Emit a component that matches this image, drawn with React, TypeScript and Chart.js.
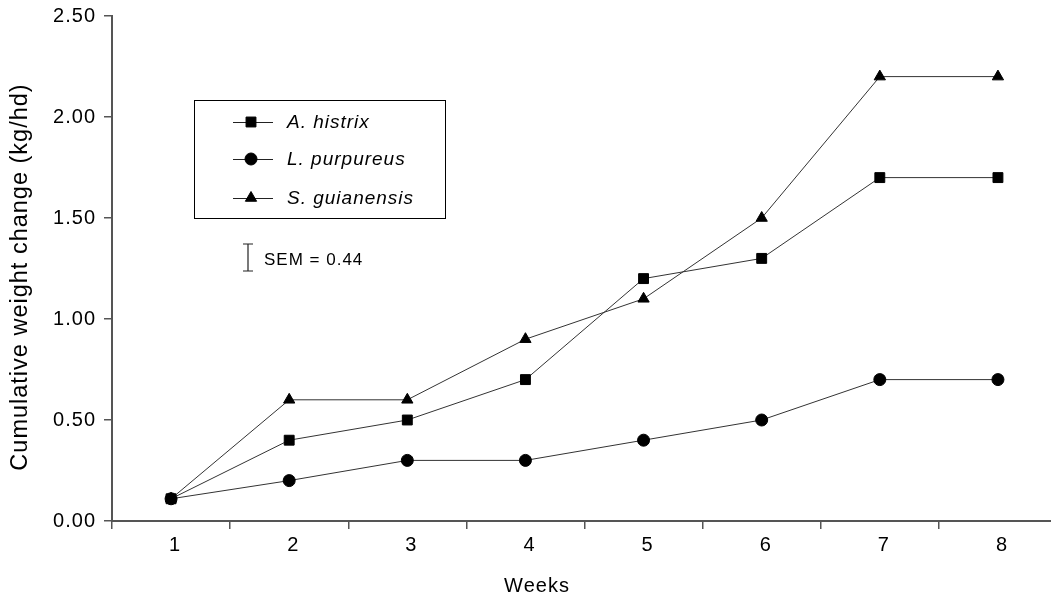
import React, { useEffect, useRef } from 'react';
import { Chart, registerables } from 'chart.js';

Chart.register(...registerables);

// ---- data ----
const weeks = ['1', '2', '3', '4', '5', '6', '7', '8'];
const aHistrix = [0.11, 0.4, 0.5, 0.7, 1.2, 1.3, 1.7, 1.7];
const lPurpureus = [0.11, 0.2, 0.3, 0.3, 0.4, 0.5, 0.7, 0.7];
const sGuianensis = [0.11, 0.6, 0.6, 0.9, 1.1, 1.5, 2.2, 2.2];
const seriesNames = ['A. histrix', 'L. purpureus', 'S. guianensis'];
const seriesStyles = ['rect', 'circle', 'triangle'];
const seriesRadius = [7, 6, 6.5];
const semLabel = 'SEM = 0.44';
const yTitle = 'Cumulative weight change (kg/hd)';
const xTitle = 'Weeks';

const FONT = "'Liberation Sans', Arial, Helvetica, sans-serif";
const CANVAS_W = 1080;
const CANVAS_H = 595;

function drawMarker(ctx: CanvasRenderingContext2D, style: string, r: number, x: number, y: number) {
  ctx.beginPath();
  if (style === 'rect') {
    const s = Math.SQRT1_2 * r;
    ctx.rect(x - s, y - s, 2 * s, 2 * s);
  } else if (style === 'circle') {
    ctx.arc(x, y, r, 0, Math.PI * 2);
  } else {
    const a = (2 * Math.PI) / 3;
    ctx.moveTo(x, y - r);
    ctx.lineTo(x + Math.sin(a) * r, y - Math.cos(a) * r);
    ctx.lineTo(x + Math.sin(2 * a) * r, y - Math.cos(2 * a) * r);
    ctx.closePath();
  }
  ctx.fill();
  ctx.stroke();
}

const spacingPlugin = {
  id: 'spacing',
  beforeDraw(chart: any) {
    (chart.ctx as any).letterSpacing = '1px';
  },
};

const decorPlugin = {
  id: 'decor',
  afterDraw(chart: any) {
    const { ctx, chartArea } = chart;
    ctx.save();
    (ctx as any).letterSpacing = '1px';
    // legend box
    const bx = chartArea.left + 82;
    const by = chartArea.top + 84;
    const bw = 251;
    const bh = 118;
    ctx.strokeStyle = '#000';
    ctx.lineWidth = 1;
    ctx.strokeRect(bx + 0.5, by + 0.5, bw, bh);
    const rowY = [by + 22, by + 59, by + 98];
    seriesNames.forEach((name, i) => {
      const y = rowY[i];
      ctx.strokeStyle = '#222';
      ctx.lineWidth = 1.2;
      ctx.beginPath();
      ctx.moveTo(bx + 39, y + 0.5);
      ctx.lineTo(bx + 79, y + 0.5);
      ctx.stroke();
      ctx.fillStyle = '#000';
      ctx.strokeStyle = '#000';
      ctx.lineWidth = 1;
      drawMarker(ctx, seriesStyles[i], seriesRadius[i], bx + 57, y);
      ctx.fillStyle = '#000';
      ctx.font = `italic 19px ${FONT}`;
      ctx.textBaseline = 'middle';
      ctx.textAlign = 'left';
      ctx.fillText(name, bx + 93, y + 1);
    });
    // SEM bar
    const sx = chartArea.left + 136;
    const sy1 = chartArea.top + 228;
    const sy2 = chartArea.top + 255;
    ctx.strokeStyle = '#222';
    ctx.lineWidth = 1.2;
    ctx.beginPath();
    ctx.moveTo(sx, sy1);
    ctx.lineTo(sx, sy2);
    ctx.moveTo(sx - 5, sy1);
    ctx.lineTo(sx + 5, sy1);
    ctx.moveTo(sx - 5, sy2);
    ctx.lineTo(sx + 5, sy2);
    ctx.stroke();
    ctx.fillStyle = '#000';
    ctx.font = `17px ${FONT}`;
    ctx.textBaseline = 'middle';
    ctx.textAlign = 'left';
    ctx.fillText(semLabel, sx + 16, (sy1 + sy2) / 2 + 3);

    // axis titles
    ctx.font = `23.5px ${FONT}`;
    ctx.textAlign = 'center';
    ctx.textBaseline = 'middle';
    ctx.save();
    ctx.translate(21, chartArea.top + 261);
    ctx.rotate(-Math.PI / 2);
    ctx.fillText(yTitle, 0, 0);
    ctx.restore();

    ctx.font = `20px ${FONT}`;
    ctx.textBaseline = 'alphabetic';
    ctx.fillText(xTitle, chartArea.left + 425, chartArea.bottom + 71);
    ctx.restore();
  },
};

export default function App() {
  const ref = useRef<HTMLCanvasElement | null>(null);

  useEffect(() => {
    if (!ref.current) return;
    const series = [aHistrix, lPurpureus, sGuianensis];
    const chart = new Chart(ref.current, {
      type: 'line',
      data: {
        labels: weeks,
        datasets: series.map((d, i) => ({
          label: seriesNames[i],
          data: d,
          borderColor: '#333',
          borderWidth: 1,
          backgroundColor: '#000',
          pointBackgroundColor: '#000',
          pointBorderColor: '#000',
          pointBorderWidth: 1,
          pointStyle: seriesStyles[i] as any,
          pointRadius: seriesRadius[i],
          tension: 0,
          fill: false,
        })),
      },
      options: {
        responsive: false,
        animation: false,
        layout: { padding: { left: 0, top: 16, right: CANVAS_W - 1057, bottom: 0 } },
        plugins: {
          legend: { display: false },
          tooltip: { enabled: false },
        },
        scales: {
          x: {
            type: 'category',
            offset: true,
            grid: {
              offset: true,
              drawOnChartArea: false,
              drawTicks: true,
              tickLength: 8,
              color: '#555',
              lineWidth: 1.5,
            },
            border: { display: true, color: '#555', width: 2 },
            ticks: {
              color: '#000',
              font: { family: FONT, size: 20 },
              padding: 4,
              labelOffset: 4,
              maxRotation: 0,
            },
            title: { display: false },
            afterFit: (s: any) => {
              s.height = CANVAS_H - 521;
              s.paddingLeft = 0;
              s.paddingRight = 0;
            },
          },
          y: {
            min: 0,
            max: 2.5,
            grid: {
              drawOnChartArea: false,
              drawTicks: true,
              tickLength: 8,
              color: '#555',
              lineWidth: 1.5,
            },
            border: { display: true, color: '#555', width: 2 },
            ticks: {
              stepSize: 0.5,
              color: '#000',
              font: { family: FONT, size: 20 },
              padding: 8,
              callback: (v: any) => Number(v).toFixed(2),
            },
            title: { display: false },
            afterFit: (s: any) => {
              s.width = 112;
              s.paddingTop = 0;
              s.paddingBottom = 0;
            },
          },
        },
      },
      plugins: [spacingPlugin, decorPlugin],
    });
    return () => chart.destroy();
  }, []);

  return (
    <div
      style={{
        position: 'fixed',
        left: 0,
        top: 0,
        width: 1051,
        height: 595,
        overflow: 'hidden',
        background: '#fff',
      }}
    >
      <canvas ref={ref} width={CANVAS_W} height={CANVAS_H} style={{ display: 'block' }} />
    </div>
  );
}
